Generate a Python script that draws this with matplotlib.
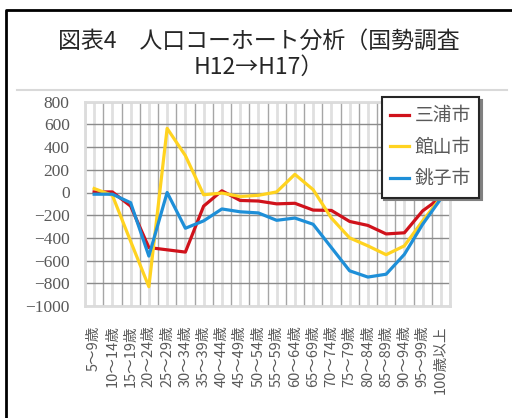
import matplotlib
matplotlib.use("Agg")
import matplotlib.pyplot as plt
import numpy as np
from matplotlib.lines import Line2D
from matplotlib.font_manager import FontProperties

# データ
AGES = ["5～9歳", "10～14歳", "15～19歳", "20～24歳", "25～29歳", "30～34歳",
        "35～39歳", "40～44歳", "45～49歳", "50～54歳", "55～59歳", "60～64歳",
        "65～69歳", "70～74歳", "75～79歳", "80～84歳", "85～89歳", "90～94歳",
        "95～99歳", "100歳以上"]
MIURA = [5, 5, -120, -485, -505, -525, -120, 15, -70, -75, -100, -95,
         -155, -158, -255, -290, -365, -355, -162, -45]
TATEYAMA = [35, -25, -430, -830, 565, 325, -20, -5, -35, -25, 5, 160,
            25, -225, -400, -470, -548, -470, -250, -45]
CHOSHI = [-15, -15, -90, -560, 0, -315, -250, -145, -170, -180, -245, -225,
          -280, -485, -690, -745, -720, -545, -280, -55]
SERIES = [("三浦市", MIURA, "#d0121b"),
          ("館山市", TATEYAMA, "#ffd320"),
          ("銚子市", CHOSHI, "#1e8fd8")]
TITLE = "図表4　人口コーホート分析（国勢調査\nH12→H17）"
YTICKS = list(range(-1000, 801, 200))

JP = ["Noto Sans CJK JP", "DejaVu Sans"]
SERIF = ["Liberation Serif", "DejaVu Serif"]
W, H = 512, 418

fig = plt.figure(figsize=(W / 100, H / 100), dpi=100)
ax = fig.add_axes([85 / W, 1 - 306 / H, (450 - 85) / W, (306 - 101.7) / H])

x = np.arange(len(AGES))
for name, vals, col in SERIES:
    ax.plot(x, vals, color=col, lw=2.3, label=name, solid_joinstyle="round")

ax.set_xlim(-0.5, len(AGES) - 0.5)
ax.set_ylim(-1000, 800)
ax.set_yticks(YTICKS)
ax.set_xticks(x)
ax.set_xticks(np.arange(-0.5, len(AGES), 1), minor=True)
ax.set_xticklabels(AGES, rotation=90, fontfamily=JP, fontsize=10.5, color="#595959")
ax.tick_params(axis="y", length=0, pad=11)
ax.tick_params(axis="x", which="both", length=0, pad=14)

ax.set_axisbelow(True)
ax.grid(axis="y", color="#8c8c8c", lw=1.0)
ax.grid(axis="x", which="major", color="#e0e0e0", lw=2.0)
ax.grid(axis="x", which="minor", color="#a6a6a6", lw=1.0)
for s in ax.spines.values():
    s.set_color("#dcdcdc")
    s.set_linewidth(2)

leg = ax.legend(loc="upper right", bbox_to_anchor=(479 / W, 1 - 97 / H),
                bbox_transform=fig.transFigure, borderaxespad=0,
                prop=FontProperties(family=JP, size=13.5), labelcolor="#595959",
                fancybox=False, edgecolor="#262626", framealpha=1,
                handlelength=1.0, handletextpad=0.3, labelspacing=0.55,
                borderpad=0.45, shadow={"color": "#808080", "alpha": 1})
leg.get_frame().set_linewidth(1.5)

fig.text(259 / W, 1 - 54 / H, TITLE, ha="center", va="center",
         multialignment="center", fontfamily=JP, fontsize=16.5,
         color="#262626", linespacing=1.15)

# 外枠
fig.add_artist(Line2D([6 / W, 6 / W, 1], [0, 1 - 10 / H, 1 - 10 / H],
                      color="black", lw=2, transform=fig.transFigure))
fig.add_artist(Line2D([17 / W, 507 / W], [1 - 90 / H, 1 - 90 / H],
                      color="#d9d9d9", lw=1.5, transform=fig.transFigure))

fig.canvas.draw()
for lab in ax.get_yticklabels():
    lab.set_fontfamily(SERIF)
    lab.set_fontsize(12.5)
    lab.set_color("#595959")

fig.savefig("out.png", dpi=100)
